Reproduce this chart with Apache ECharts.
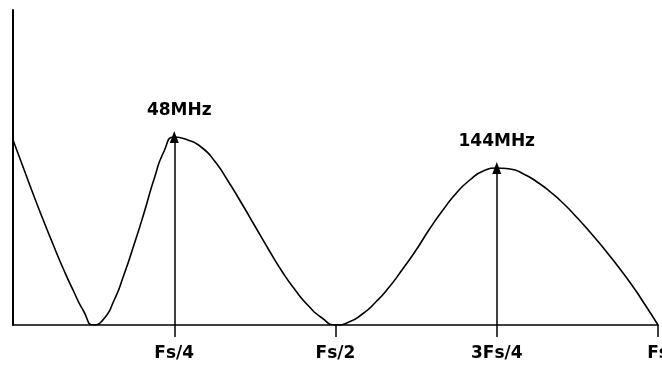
<!DOCTYPE html>
<html>
<head>
<meta charset="utf-8">
<script src="https://cdn.jsdelivr.net/npm/echarts@6/dist/echarts.min.js"></script>
<style>html,body{margin:0;padding:0;background:#fff;}#c{width:662px;height:373px;}</style>
</head>
<body>
<div id="c"></div>
<script>
// frequency in MHz (Fs = 192 MHz), amplitude in arbitrary units
var freqs = [0, 3, 6, 9, 12, 15, 18, 21, 24, 27, 30, 33, 36, 39, 42, 45, 48,
             52, 56, 60, 64, 68, 72, 76, 80, 84, 88, 92, 96,
             100, 104, 108, 112, 116, 120, 124, 128, 132, 136, 140, 144,
             148, 152, 156, 160, 164, 168, 172, 176, 180, 184, 188, 192];
var amps  = [185, 158, 131, 105, 80, 56, 34, 14, 0, 6, 24, 50, 80, 112, 146, 174, 188,
             185, 178, 164, 144, 122, 99, 76, 54, 35, 19, 7, 0,
             3, 11, 23, 38, 56, 75, 96, 115, 132, 145, 154, 157,
             156, 151, 143, 133, 121, 107, 92, 76, 59, 41, 21, 0];
var tickValues = [48, 96, 144, 192];
var tickLabels = ['Fs/4', 'Fs/2', '3Fs/4', 'Fs'];
var markers = [{f: 48, a: 188, text: '48MHz', dx: 5}, {f: 144, a: 157, text: '144MHz', dx: 0}];

var chart = echarts.init(document.getElementById('c'));
var font = 'DejaVu Sans';
chart.setOption({
  animation: false,
  grid: {left: 13, right: 4, top: 10, bottom: 48, outerBoundsMode: 'none', containLabel: false},
  xAxis: {
    type: 'value', min: 0, max: 192, interval: 48,
    axisLine: {show: true, lineStyle: {color: '#000', width: 1.5}},
    axisTick: {show: true, length: 12, customValues: tickValues, lineStyle: {color: '#000', width: 1.5}},
    axisLabel: {
      customValues: tickValues, margin: 20, color: '#000', fontFamily: font, fontSize: 17, fontWeight: 'bold',
      hideOverlap: false,
      formatter: function (v) { var i = tickValues.indexOf(v); return i >= 0 ? tickLabels[i] : ''; }
    },
    splitLine: {show: false}
  },
  yAxis: {
    type: 'value', min: 0, max: 315,
    axisLine: {show: true, lineStyle: {color: '#000', width: 2}},
    axisTick: {show: false}, axisLabel: {show: false}, splitLine: {show: false}
  },
  series: [{
    type: 'line', smooth: 0.6, symbol: 'none',
    data: freqs.map(function (f, i) { return [f, amps[i]]; }),
    lineStyle: {color: '#000', width: 1.6},
    markLine: {
      silent: true,
      symbol: ['none', 'triangle'], symbolSize: [9, 12],
      lineStyle: {color: '#000', width: 1.5, type: 'solid'},
      label: {show: true, position: 'end', distance: 18, color: '#000', fontFamily: font, fontSize: 17, fontWeight: 'bold'},
      data: markers.map(function (m) {
        return [{coord: [m.f, 0], label: {formatter: m.text, offset: [m.dx, 0]}}, {coord: [m.f, m.a]}];
      })
    }
  }]
});
</script>
</body>
</html>
